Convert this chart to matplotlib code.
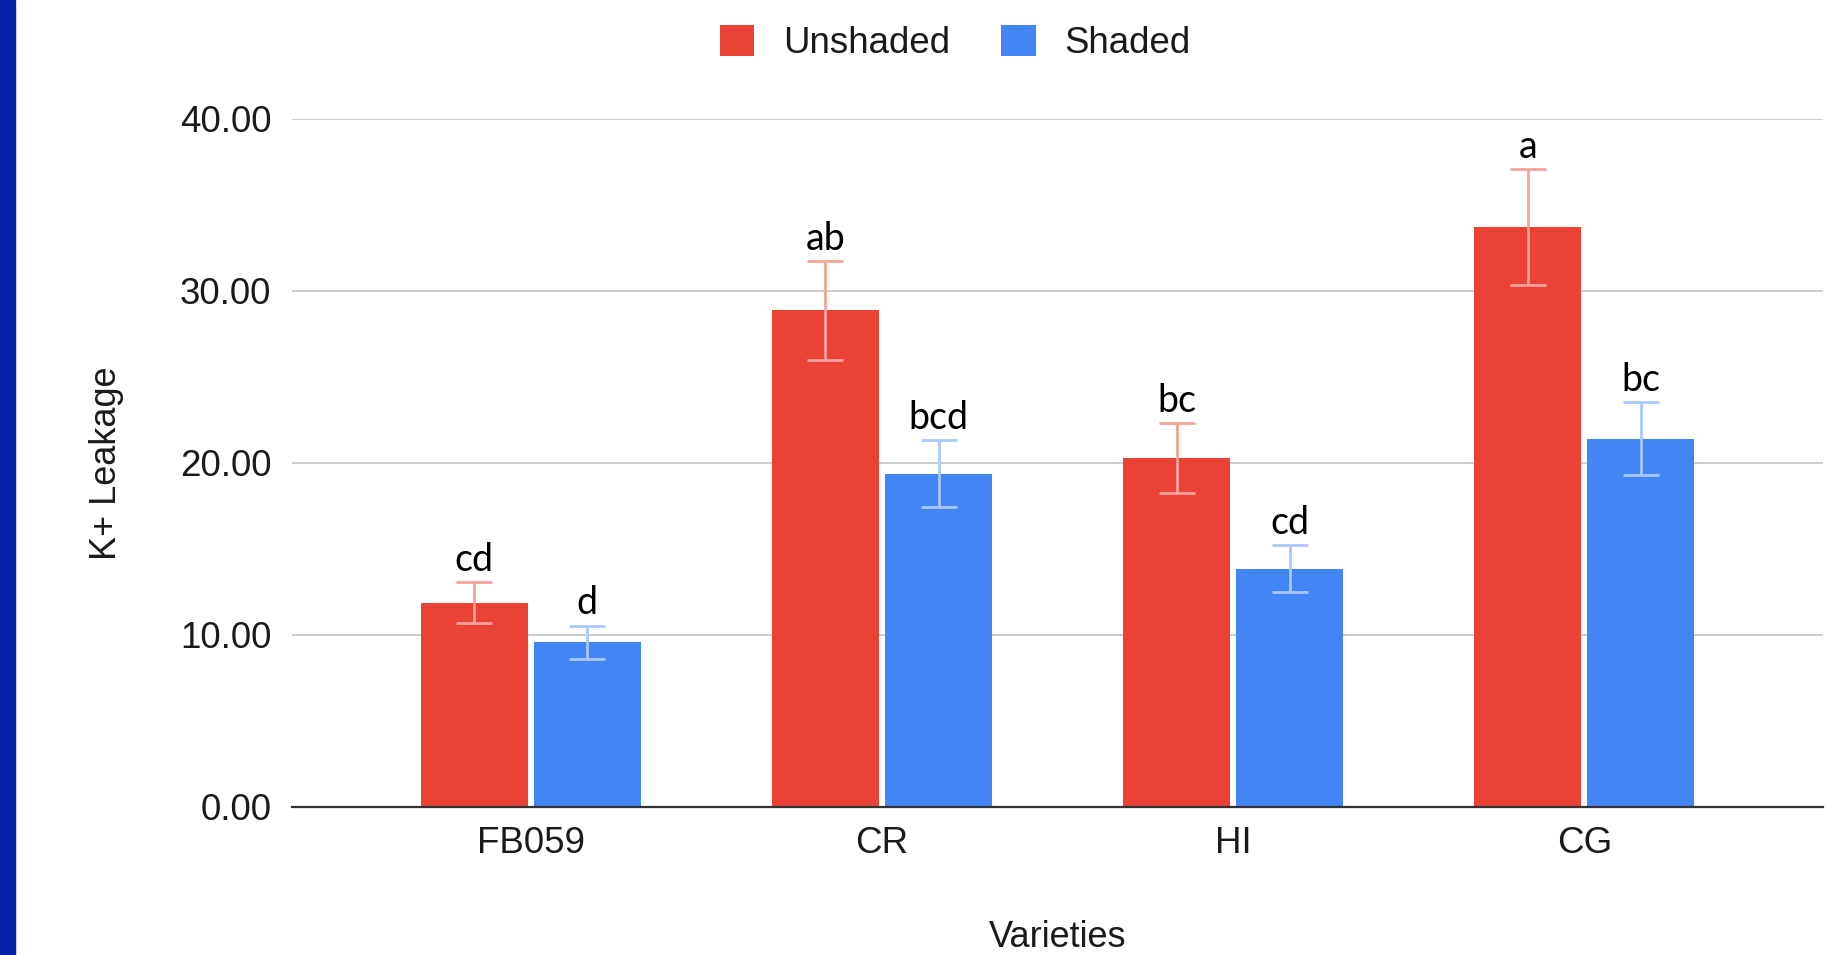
import matplotlib.pyplot as plt
import numpy as np
from matplotlib.patches import Rectangle

# ---- data ----
varieties = ["FB059", "CR", "HI", "CG"]
unshaded = [11.88, 28.88, 20.28, 33.72]
shaded = [9.58, 19.38, 13.85, 21.42]
unshaded_err = [1.21, 2.87, 2.03, 3.36]
shaded_err = [0.97, 1.94, 1.38, 2.14]
unshaded_groups = ["cd", "ab", "bc", "a"]
shaded_groups = ["d", "bcd", "cd", "bc"]

RED = "#EA4335"
BLUE = "#4285F4"
RED_ERR = "#F4A29C"
BLUE_ERR = "#A9C8FB"
TEXT = "#1A1A1A"

plt.rcParams["font.family"] = ["Liberation Sans", "DejaVu Sans"]

fig = plt.figure(figsize=(18.45, 9.55), dpi=100)
ax = fig.add_axes([0.1583, 0.155, 0.8298, 0.7204])

# blue strip down the left edge
fig.patches.append(Rectangle((0, 0), 15 / 1845, 1, transform=fig.transFigure,
                             color="#0322A8", zorder=5))

x = np.arange(len(varieties))
width = 0.3045
offset = 0.161

ax.bar(x - offset, unshaded, width, color=RED, label="Unshaded", zorder=2)
ax.bar(x + offset, shaded, width, color=BLUE, label="Shaded", zorder=2)

ax.errorbar(x - offset, unshaded, yerr=unshaded_err, fmt="none", ecolor=RED_ERR,
            elinewidth=2.0, capsize=13.3, capthick=2.0, zorder=3)
ax.errorbar(x + offset, shaded, yerr=shaded_err, fmt="none", ecolor=BLUE_ERR,
            elinewidth=2.0, capsize=13.3, capthick=2.0, zorder=3)

# significance letters above the error bars
for xi, v, e, g in zip(x - offset, unshaded, unshaded_err, unshaded_groups):
    ax.annotate(g, (xi, v + e), xytext=(0, 3), textcoords="offset points",
                ha="center", va="bottom", fontsize=27, family="Lato", color="#000000")
for xi, v, e, g in zip(x + offset, shaded, shaded_err, shaded_groups):
    ax.annotate(g, (xi, v + e), xytext=(0, 3), textcoords="offset points",
                ha="center", va="bottom", fontsize=27, family="Lato", color="#000000")

ax.set_xlim(-0.68, 3.68)
ax.set_ylim(0, 40)
ax.set_yticks([0, 10, 20, 30, 40])
ax.set_yticklabels([f"{t:.2f}" for t in [0, 10, 20, 30, 40]])
ax.set_xticks(x)
ax.set_xticklabels(varieties)
ax.tick_params(axis="both", length=0, labelsize=26.5, colors=TEXT)
ax.tick_params(axis="y", pad=15)
ax.tick_params(axis="x", pad=14)

ax.yaxis.grid(True, color="#CCCCCC", linewidth=1.4, zorder=0)
ax.set_axisbelow(True)
for s in ["top", "right", "left"]:
    ax.spines[s].set_visible(False)
ax.spines["bottom"].set_color("#333333")
ax.spines["bottom"].set_linewidth(1.6)
ax.spines["bottom"].set_zorder(4)

ax.set_xlabel("Varieties", fontsize=26, color=TEXT, labelpad=42)
ax.set_ylabel("K+ Leakage", fontsize=26, color=TEXT, labelpad=40)

fig.legend(loc="center", bbox_to_anchor=(955 / 1845, 0.955), ncol=2, frameon=False,
           fontsize=26.4, handlelength=0.95, handleheight=0.95, handletextpad=0.77,
           columnspacing=1.4, labelcolor=TEXT)

fig.savefig("out.png", dpi=100, facecolor="white")
